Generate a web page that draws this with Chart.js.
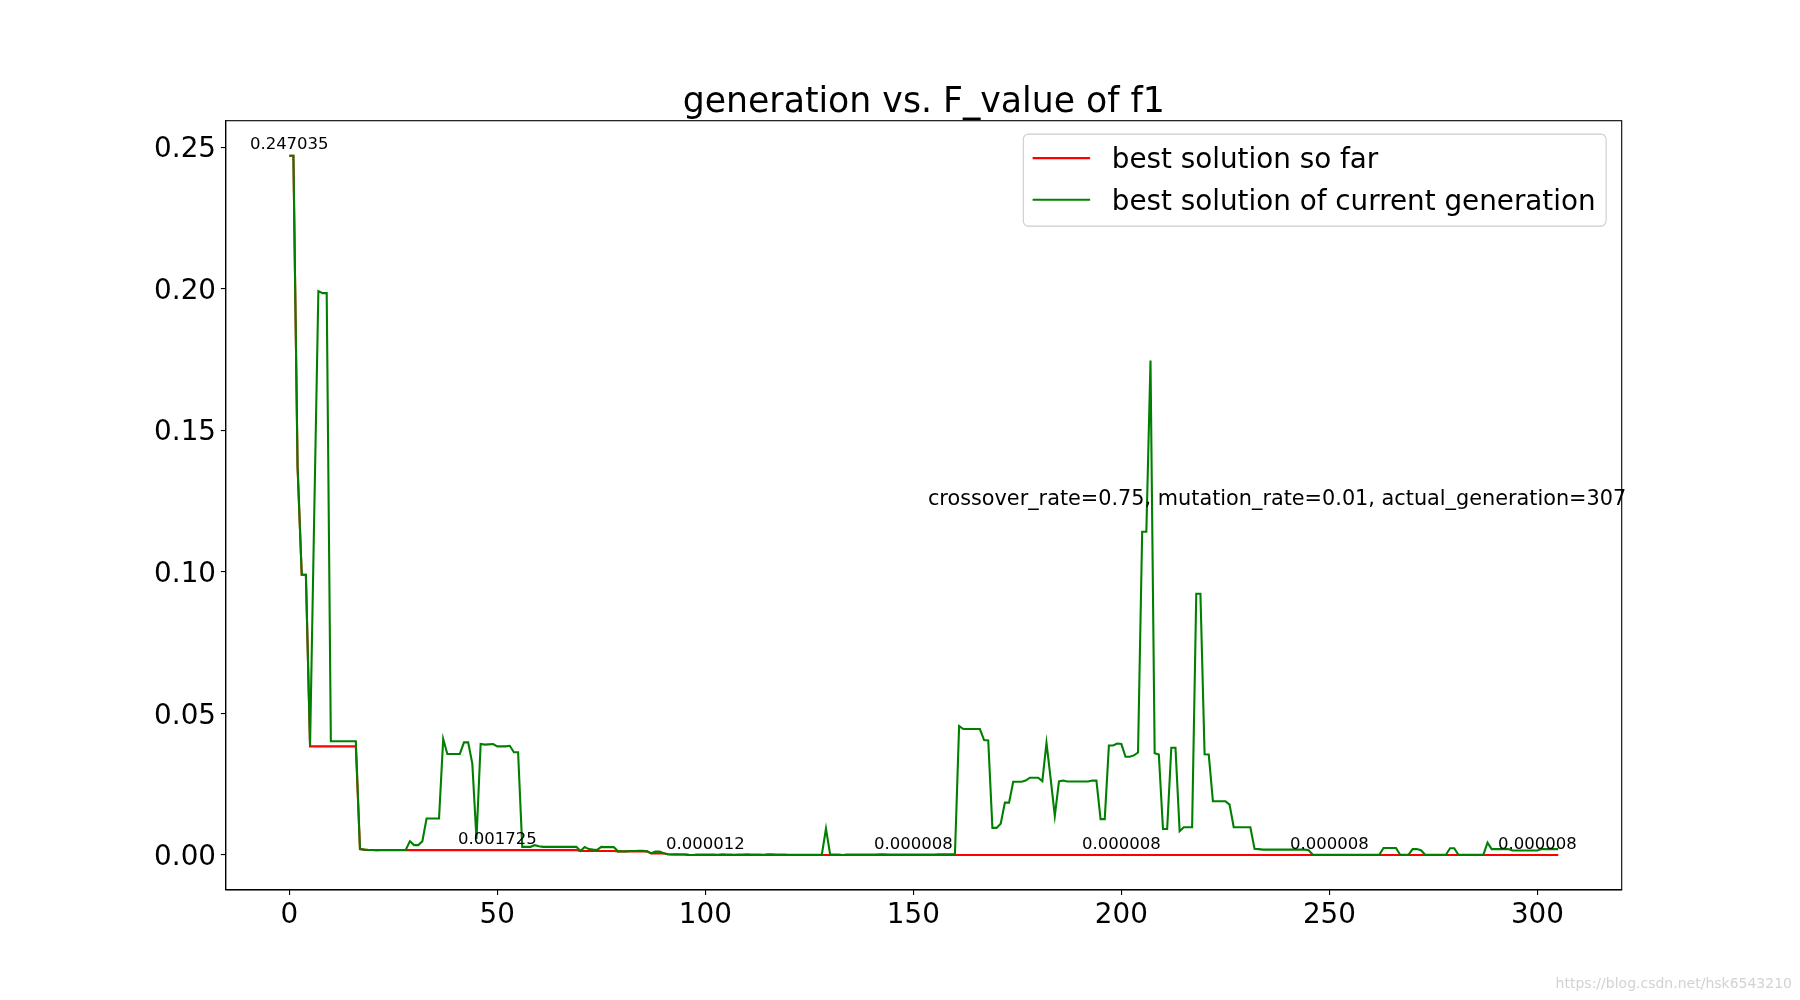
<!DOCTYPE html>
<html>
<head>
<meta charset="utf-8">
<title>generation vs. F_value of f1</title>
<script src="https://cdn.jsdelivr.net/npm/chart.js@4.4.1/dist/chart.umd.min.js"></script>
<style>
  html, body { margin: 0; padding: 0; background: #fff; }
  #chart { display: block; }
</style>
</head>
<body>
<canvas id="chart" width="1800" height="1000"></canvas>
<script>
// best solution of current generation, one value per generation (0..305)
const bestCurrent = [
  0.247035, 0.2470, 0.1372, 0.0990, 0.0990, 0.0384, 0.1200, 0.1992, 0.1985, 0.1985,
  0.0402, 0.0402, 0.0402, 0.0402, 0.0402, 0.0402, 0.0402, 0.0021, 0.0019, 0.0018,
  0.0018, 0.001725, 0.0018, 0.0018, 0.0018, 0.0018, 0.0018, 0.0018, 0.0018, 0.0049,
  0.0035, 0.0035, 0.0049, 0.0129, 0.0129, 0.0129, 0.0129, 0.0410, 0.0357, 0.0357,
  0.0357, 0.0357, 0.0398, 0.0398, 0.0323, 0.0057, 0.0392, 0.0390, 0.0391, 0.0392,
  0.0384, 0.0384, 0.0384, 0.0386, 0.0363, 0.0363, 0.0029, 0.0029, 0.0029, 0.0035,
  0.0031, 0.0029, 0.0029, 0.0029, 0.0029, 0.0029, 0.0029, 0.0029, 0.0029, 0.0029,
  0.0014, 0.0028, 0.0021, 0.0019, 0.0018, 0.0029, 0.0028, 0.0028, 0.0028, 0.0013,
  0.0013, 0.0013, 0.0014, 0.0014, 0.0015, 0.0015, 0.0013, 0.0006, 0.0012, 0.0012,
  0.0006, 0.0003, 0.0002, 0.0003, 0.0002, 0.0002, 0.00005, 0.000012, 0.0002, 0.0002,
  0.0002, 0.0002, 0.0002, 0.0001, 0.0003, 0.0002, 0.0002, 0.0001, 0.0002, 0.0002,
  0.0003, 0.0002, 0.0002, 0.0002, 0.0001, 0.0003, 0.0003, 0.0002, 0.0002, 0.0002,
  0.0001, 0.0001, 0.0001, 0.0001, 0.0001, 0.0001, 0.0001, 0.0001, 0.0001, 0.0093,
  0.0002, 0.0002, 0.0002, 0.000008, 0.0002, 0.0002, 0.0002, 0.0002, 0.0002, 0.0002,
  0.0002, 0.0002, 0.0003, 0.0003, 0.0002, 0.0002, 0.0002, 0.0002, 0.0002, 0.0002,
  0.0002, 0.0002, 0.0002, 0.0002, 0.0002, 0.0002, 0.0003, 0.0003, 0.0003, 0.0003,
  0.0003, 0.0456, 0.0445, 0.0445, 0.0445, 0.0445, 0.0445, 0.0406, 0.0405, 0.0096,
  0.0096, 0.0111, 0.0185, 0.0185, 0.0259, 0.0259, 0.0259, 0.0263, 0.0273, 0.0273,
  0.0273, 0.0261, 0.0396, 0.0270, 0.0138, 0.0260, 0.0263, 0.0260, 0.0260, 0.0260,
  0.0260, 0.0260, 0.0260, 0.0263, 0.0263, 0.0127, 0.0127, 0.0387, 0.0387, 0.0394,
  0.0392, 0.0347, 0.0347, 0.0352, 0.0362, 0.1142, 0.1142, 0.1747, 0.0360, 0.0355,
  0.0092, 0.0092, 0.0379, 0.0379, 0.0084, 0.0098, 0.0098, 0.0098, 0.0923, 0.0923,
  0.0356, 0.0355, 0.0190, 0.0190, 0.0190, 0.0190, 0.0178, 0.0098, 0.0098, 0.0098,
  0.0098, 0.0098, 0.0022, 0.0021, 0.0019, 0.0019, 0.0019, 0.0019, 0.0019, 0.0019,
  0.0019, 0.0019, 0.0019, 0.0019, 0.0019, 0.0017, 0.0001, 0.0001, 0.0001, 0.0001,
  0.0001, 0.0001, 0.0001, 0.0001, 0.0001, 0.0001, 0.0001, 0.0001, 0.0001, 0.0001,
  0.0001, 0.0001, 0.0001, 0.0025, 0.0025, 0.0025, 0.0025, 0.0001, 0.0001, 0.0001,
  0.0021, 0.0021, 0.0017, 0.0001, 0.0001, 0.0001, 0.0001, 0.0001, 0.0001, 0.0024,
  0.0024, 0.0001, 0.0001, 0.0001, 0.0001, 0.0001, 0.0001, 0.0001, 0.0044, 0.0021,
  0.0021, 0.0021, 0.0021, 0.0021, 0.0016, 0.0016, 0.0016, 0.0016, 0.0016, 0.0016,
  0.0016, 0.0021, 0.0021, 0.0021, 0.0021, 0.0021
];

// best solution so far, one value per generation (0..305)
const bestSoFar = [
  0.247035, 0.2470, 0.1372, 0.0990, 0.0990, 0.0384, 0.0384, 0.0384, 0.0384, 0.0384,
  0.0384, 0.0384, 0.0384, 0.0384, 0.0384, 0.0384, 0.0384, 0.0021, 0.0019, 0.0018,
  0.0018, 0.001725, 0.001725, 0.001725, 0.001725, 0.001725, 0.001725, 0.001725, 0.001725, 0.001725,
  0.001725, 0.001725, 0.001725, 0.001725, 0.001725, 0.001725, 0.001725, 0.001725, 0.001725, 0.001725,
  0.001725, 0.001725, 0.001725, 0.001725, 0.001725, 0.001725, 0.001725, 0.001725, 0.001725, 0.001725,
  0.001725, 0.001725, 0.001725, 0.001725, 0.001725, 0.001725, 0.001725, 0.001725, 0.001725, 0.001725,
  0.001725, 0.001725, 0.001725, 0.001725, 0.001725, 0.001725, 0.001725, 0.001725, 0.001725, 0.001725,
  0.0014, 0.0014, 0.0014, 0.0014, 0.0014, 0.0014, 0.0014, 0.0014, 0.0014, 0.0013,
  0.0013, 0.0013, 0.0013, 0.0013, 0.0013, 0.0013, 0.0013, 0.0006, 0.0006, 0.0006,
  0.0006, 0.0003, 0.0002, 0.0002, 0.0002, 0.0002, 0.00005, 0.000012, 0.000012, 0.000012,
  0.000012, 0.000012, 0.000012, 0.000012, 0.000012, 0.000012, 0.000012, 0.000012, 0.000012, 0.000012,
  0.000012, 0.000012, 0.000012, 0.000012, 0.000012, 0.000012, 0.000012, 0.000012, 0.000012, 0.000012,
  0.000012, 0.000012, 0.000012, 0.000012, 0.000012, 0.000012, 0.000012, 0.000012, 0.000012, 0.000012,
  0.000012, 0.000012, 0.000012, 0.000008, 0.000008, 0.000008, 0.000008, 0.000008, 0.000008, 0.000008,
  0.000008, 0.000008, 0.000008, 0.000008, 0.000008, 0.000008, 0.000008, 0.000008, 0.000008, 0.000008,
  0.000008, 0.000008, 0.000008, 0.000008, 0.000008, 0.000008, 0.000008, 0.000008, 0.000008, 0.000008,
  0.000008, 0.000008, 0.000008, 0.000008, 0.000008, 0.000008, 0.000008, 0.000008, 0.000008, 0.000008,
  0.000008, 0.000008, 0.000008, 0.000008, 0.000008, 0.000008, 0.000008, 0.000008, 0.000008, 0.000008,
  0.000008, 0.000008, 0.000008, 0.000008, 0.000008, 0.000008, 0.000008, 0.000008, 0.000008, 0.000008,
  0.000008, 0.000008, 0.000008, 0.000008, 0.000008, 0.000008, 0.000008, 0.000008, 0.000008, 0.000008,
  0.000008, 0.000008, 0.000008, 0.000008, 0.000008, 0.000008, 0.000008, 0.000008, 0.000008, 0.000008,
  0.000008, 0.000008, 0.000008, 0.000008, 0.000008, 0.000008, 0.000008, 0.000008, 0.000008, 0.000008,
  0.000008, 0.000008, 0.000008, 0.000008, 0.000008, 0.000008, 0.000008, 0.000008, 0.000008, 0.000008,
  0.000008, 0.000008, 0.000008, 0.000008, 0.000008, 0.000008, 0.000008, 0.000008, 0.000008, 0.000008,
  0.000008, 0.000008, 0.000008, 0.000008, 0.000008, 0.000008, 0.000008, 0.000008, 0.000008, 0.000008,
  0.000008, 0.000008, 0.000008, 0.000008, 0.000008, 0.000008, 0.000008, 0.000008, 0.000008, 0.000008,
  0.000008, 0.000008, 0.000008, 0.000008, 0.000008, 0.000008, 0.000008, 0.000008, 0.000008, 0.000008,
  0.000008, 0.000008, 0.000008, 0.000008, 0.000008, 0.000008, 0.000008, 0.000008, 0.000008, 0.000008,
  0.000008, 0.000008, 0.000008, 0.000008, 0.000008, 0.000008, 0.000008, 0.000008, 0.000008, 0.000008,
  0.000008, 0.000008, 0.000008, 0.000008, 0.000008, 0.000008, 0.000008, 0.000008, 0.000008, 0.000008,
  0.000008, 0.000008, 0.000008, 0.000008, 0.000008, 0.000008
];

const xTicks = [0, 50, 100, 150, 200, 250, 300];
const yTicks = [0.00, 0.05, 0.10, 0.15, 0.20, 0.25];
const labelGens = [0, 50, 100, 150, 200, 250, 300];   // where the best-so-far value is printed
const seriesNames = ['best solution so far', 'best solution of current generation'];
const seriesColors = ['#ff0000', '#008000'];
const titleText = 'generation vs. F_value of f1';
const paramText = 'crossover_rate=0.75, mutation_rate=0.01, actual_generation=307';
const paramAt = [153.5, 0.1235175];
const watermark = 'https://blog.csdn.net/hsk6543210';

const FONT = '"DejaVu Sans", "Liberation Sans", sans-serif';

function toPoints(values) {
    return values.map((v, i) => ({ x: i, y: v }));
}

const decorations = {
    id: 'decorations',
    afterDatasetsDraw(chart) {
        const { ctx, chartArea: a, scales } = chart;
        const x = scales.x, y = scales.y;
        ctx.save();

        // axes frame
        ctx.strokeStyle = '#000';
        ctx.lineWidth = 1.1;
        ctx.strokeRect(a.left, a.top, a.right - a.left, a.bottom - a.top);

        // value labels every 50 generations
        ctx.fillStyle = '#000';
        ctx.font = '16.5px ' + FONT;
        ctx.textAlign = 'center';
        ctx.textBaseline = 'alphabetic';
        labelGens.forEach(g => {
            ctx.fillText(bestSoFar[g].toFixed(6), x.getPixelForValue(g), y.getPixelForValue(bestSoFar[g]) - 6.5);
        });

        // parameter text
        ctx.font = '20.8px ' + FONT;
        ctx.textAlign = 'left';
        ctx.fillText(paramText, x.getPixelForValue(paramAt[0]), y.getPixelForValue(paramAt[1]));

        // title
        ctx.font = '34.7px ' + FONT;
        ctx.textAlign = 'center';
        ctx.fillText(titleText, (a.left + a.right) / 2, a.top - 8.3);

        // legend, upper right inside the axes
        const fs = 27.8;
        ctx.font = fs + 'px ' + FONT;
        const textW = Math.max(...seriesNames.map(s => ctx.measureText(s).width));
        const padL = 9.3, padR = 10.5, handle = 57.5, gap = 21.7, rowStep = 41.7;
        const boxW = padL + handle + gap + textW + padR;
        const boxH = 92;
        const bx = a.right - 15.6 - boxW;
        const by = a.top + 13.4;
        ctx.beginPath();
        ctx.roundRect(bx, by, boxW, boxH, 5);
        ctx.fillStyle = 'rgba(255,255,255,0.8)';
        ctx.fill();
        ctx.strokeStyle = '#cccccc';
        ctx.lineWidth = 1.1;
        ctx.stroke();
        ctx.textAlign = 'left';
        ctx.textBaseline = 'middle';
        seriesNames.forEach((name, i) => {
            const cy = by + 24 + i * rowStep;
            ctx.strokeStyle = seriesColors[i];
            ctx.lineWidth = 2.1;
            ctx.beginPath();
            ctx.moveTo(bx + padL, cy);
            ctx.lineTo(bx + padL + handle, cy);
            ctx.stroke();
            ctx.fillStyle = '#000';
            ctx.fillText(name, bx + padL + handle + gap, cy + 3);
        });

        // source watermark
        ctx.font = '14px ' + FONT;
        ctx.fillStyle = '#d2d2d2';
        ctx.textAlign = 'right';
        ctx.textBaseline = 'alphabetic';
        ctx.fillText(watermark, 1792, 988);

        ctx.restore();
    }
};

const axisCommon = {
    type: 'linear',
    grid: { drawOnChartArea: false, drawTicks: true, tickLength: 4.9, color: '#000', lineWidth: 1.1 },
    border: { display: true, color: '#000', width: 1.1 },
};

new Chart(document.getElementById('chart').getContext('2d'), {
    type: 'line',
    data: {
        datasets: [
            {
                label: seriesNames[0],
                data: toPoints(bestSoFar),
                borderColor: seriesColors[0],
                backgroundColor: seriesColors[0],
                borderWidth: 2.1,
                pointRadius: 0,
                tension: 0,
                order: 1
            },
            {
                label: seriesNames[1],
                data: toPoints(bestCurrent),
                borderColor: seriesColors[1],
                backgroundColor: seriesColors[1],
                borderWidth: 2.1,
                pointRadius: 0,
                tension: 0,
                order: 0
            }
        ]
    },
    options: {
        responsive: false,
        animation: false,
        devicePixelRatio: 1,
        layout: { padding: { left: 0, right: 178.3, top: 120.7, bottom: 0 } },
        plugins: { legend: { display: false }, title: { display: false }, tooltip: { enabled: false } },
        scales: {
            x: {
                ...axisCommon,
                min: -15.25,
                max: 320.25,
                afterBuildTicks: s => { s.ticks = xTicks.map(v => ({ value: v })); },
                afterFit: s => { s.height = 110; },
                ticks: {
                    autoSkip: false, maxRotation: 0, padding: 4, color: '#000',
                    font: { family: FONT, size: 27.8 },
                    callback: v => String(v)
                }
            },
            y: {
                ...axisCommon,
                min: -0.01235,
                max: 0.2594,
                afterBuildTicks: s => { s.ticks = yTicks.map(v => ({ value: v })); },
                afterFit: s => { s.width = 225.8; },
                ticks: {
                    autoSkip: false, padding: 4.9, labelOffset: 2.8, color: '#000',
                    font: { family: FONT, size: 27.8 },
                    callback: v => v.toFixed(2)
                }
            }
        }
    },
    plugins: [decorations]
});
</script>
</body>
</html>
